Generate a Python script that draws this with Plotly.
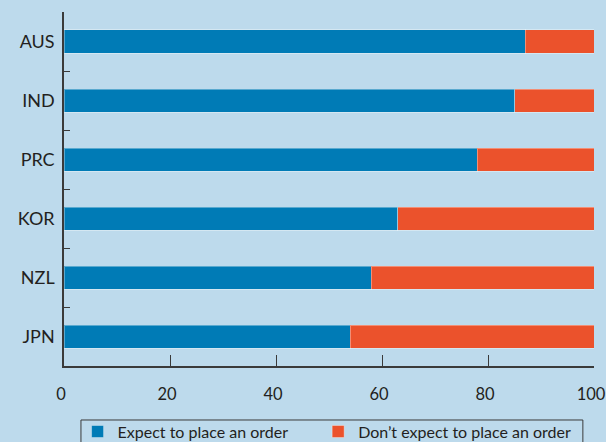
import plotly.graph_objects as go

# Share of firms, by economy (percent)
economies = ["AUS", "IND", "PRC", "KOR", "NZL", "JPN"]
expect_order = [87, 85, 78, 63, 58, 54]
no_order = [100 - v for v in expect_order]
x_ticks = [0, 20, 40, 60, 80, 100]

BG = "#BDDAEC"
BLUE = "#007BB6"
ORANGE = "#EB522C"
INK = "#231F20"
FRAME = "#3A3A3A"
FONT = "Lato"

fig = go.Figure()
fig.add_trace(go.Bar(
    y=economies, x=expect_order, orientation="h",
    name="Expect to place an order",
    legend="legend",
    marker=dict(color=BLUE, line=dict(color="rgba(255,255,255,0.35)", width=1)),
))
fig.add_trace(go.Bar(
    y=economies, x=no_order, orientation="h",
    name="Don\u2019t expect to place an order",
    legend="legend2",
    marker=dict(color=ORANGE, line=dict(color="rgba(255,255,255,0.35)", width=1)),
))

legend_common = dict(
    orientation="h",
    xref="container", yref="container",
    yanchor="top", y=0.062,
    xanchor="left",
    borderwidth=0,
    bgcolor="rgba(0,0,0,0)",
    font=dict(size=16, family=FONT, color=INK),
    itemwidth=30,
)

fig.update_layout(
    barmode="stack",
    bargap=0.61,
    width=606, height=442,
    margin=dict(l=64, r=12, t=12, b=76, autoexpand=False),
    paper_bgcolor=BG, plot_bgcolor=BG,
    font=dict(family=FONT, color=INK, size=17),
    showlegend=True,
    legend=dict(legend_common, x=0.128),
    legend2=dict(legend_common, x=0.525),
    xaxis=dict(
        range=[0, 100],
        tickvals=x_ticks,
        ticks="inside", ticklen=11, tickwidth=1.3, tickcolor=FRAME,
        showline=True, linecolor=FRAME, linewidth=1.5,
        showgrid=False, zeroline=False,
        tickfont=dict(size=16.5),
        ticklabelstandoff=12,
        ticklabelshift=-3,
        ticklabeloverflow="allow",
        fixedrange=True,
    ),
    yaxis=dict(
        categoryorder="array", categoryarray=economies,
        autorange="reversed",
        tickson="boundaries",
        ticks="inside", ticklen=6, tickwidth=1.3, tickcolor=FRAME,
        showline=True, linecolor=FRAME, linewidth=1.5,
        showgrid=False, zeroline=False,
        tickfont=dict(size=18),
        ticklabelstandoff=4,
        fixedrange=True,
    ),
)

# Frame around the two legend entries
fig.add_shape(
    type="rect", xref="paper", yref="paper",
    x0=0.032, x1=0.979, y0=-0.1525, y1=-0.235,
    line=dict(color=FRAME, width=1), fillcolor="rgba(0,0,0,0)",
    layer="below",
)

fig.write_html("out.html")
